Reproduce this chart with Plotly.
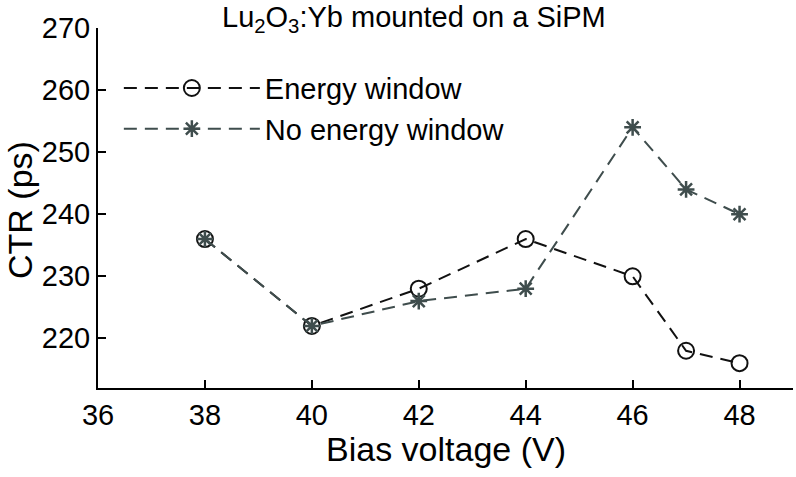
import plotly.graph_objects as go

bias_v = [38, 40, 42, 44, 46, 47, 48]
ctr_energy_window = [236, 222, 228, 236, 230, 218, 216]
ctr_no_energy_window = [236, 222, 226, 228, 254, 244, 240]
x_ticks = [36, 38, 40, 42, 44, 46, 48]
y_ticks = [220, 230, 240, 250, 260, 270]

black = "#111111"
slate = "#3f4d4d"
font_family = "Liberation Sans, Arial, sans-serif"

fig = go.Figure()
fig.add_trace(go.Scatter(
    x=bias_v, y=ctr_energy_window, mode="lines+markers", name="Energy window",
    line=dict(color=black, width=2, dash="13px,8px"),
    marker=dict(symbol="circle-open", size=16, color=black, line=dict(width=2, color=black)),
))
fig.add_trace(go.Scatter(
    x=bias_v, y=ctr_no_energy_window, mode="lines+markers", name="No energy window",
    line=dict(color=slate, width=2, dash="13px,8px"),
    marker=dict(symbol="asterisk-open", size=14, color=slate, line=dict(width=2.5, color=slate)),
))

fig.update_layout(
    width=796, height=477,
    margin=dict(l=98, r=3, t=28, b=89),
    paper_bgcolor="white", plot_bgcolor="white",
    font=dict(family=font_family, color="#000000"),
    showlegend=True,
    legend=dict(x=0.03, y=0.776, xanchor="left", yanchor="middle",
                font=dict(size=29, family=font_family), bgcolor="rgba(0,0,0,0)",
                itemwidth=136, tracegroupgap=0),
    annotations=[
        dict(text="Lu<sub>2</sub>O<sub>3</sub>:Yb mounted on a SiPM",
             x=0.455, y=1.0, xref="paper", yref="paper", xanchor="center", yanchor="bottom",
             yshift=-11, showarrow=False, font=dict(size=29, family=font_family)),
        dict(text="Bias voltage (V)", x=0.5, y=0, xref="paper", yref="paper",
             xanchor="center", yanchor="middle", yshift=-61, showarrow=False,
             font=dict(size=34, family=font_family)),
        dict(text="CTR (ps)", x=0, y=0.5, xref="paper", yref="paper", textangle=-90,
             xanchor="center", yanchor="middle", xshift=-78, yshift=-2, showarrow=False,
             font=dict(size=34, family=font_family)),
    ],
)
fig.update_xaxes(
    range=[36, 49], tickvals=x_ticks, ticks="inside", ticklen=8, tickwidth=2,
    tickcolor="#000", showline=True, linecolor="#000", linewidth=2, showgrid=False,
    zeroline=False, tickfont=dict(size=29),
)
fig.update_yaxes(
    range=[212, 270], tickvals=y_ticks, ticks="inside", ticklen=8, tickwidth=2,
    tickcolor="#000", showline=True, linecolor="#000", linewidth=2, showgrid=False,
    zeroline=False, tickfont=dict(size=29),
)

fig.write_html("out.html")
